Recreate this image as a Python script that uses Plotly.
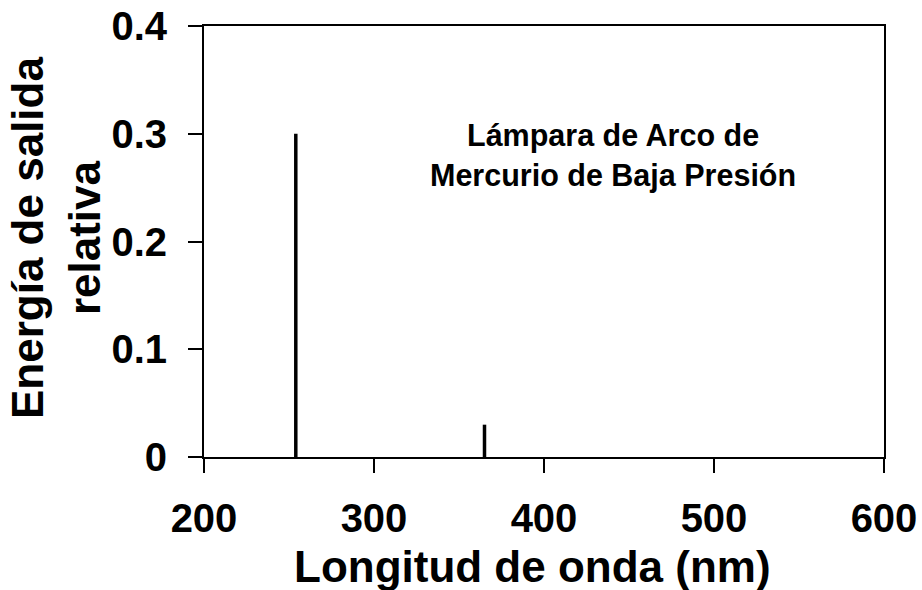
import plotly.graph_objects as go

# Data
wavelengths = [254, 365]          # nm
energies = [0.30, 0.03]           # relative output energy
x_ticks = [200, 300, 400, 500, 600]
y_ticks = [0, 0.1, 0.2, 0.3, 0.4]
y_tick_labels = ["0", "0.1", "0.2", "0.3", "0.4"]

FONT = "Arial, 'Liberation Sans', sans-serif"

xs, ys = [], []
for w, e in zip(wavelengths, energies):
    xs += [w, w, None]
    ys += [0, e, None]

fig = go.Figure()
fig.add_trace(go.Scatter(x=xs, y=ys, mode="lines",
                         line=dict(color="black", width=3.5),
                         showlegend=False, hoverinfo="skip"))

L, R, T, B = 204, 884, 26, 457
fig.update_layout(
    width=922, height=590,
    margin=dict(l=L, r=922 - R, t=T, b=590 - B, autoexpand=False),
    paper_bgcolor="white", plot_bgcolor="white",
    font=dict(family=FONT, color="black"),
    showlegend=False,
)
fig.update_xaxes(
    range=[200, 600], tickvals=x_ticks, ticktext=[str(v) for v in x_ticks],
    showgrid=False, zeroline=False, showline=True, linecolor="black", linewidth=2,
    mirror=True, ticks="outside", ticklen=14, tickwidth=2, tickcolor="black",
    tickfont=dict(size=40, family=FONT, weight="bold"),
    ticklabelstandoff=11, automargin=False,
)
fig.update_yaxes(
    range=[0, 0.4], tickvals=y_ticks, ticktext=y_tick_labels,
    showgrid=False, zeroline=False, showline=True, linecolor="black", linewidth=2,
    mirror=True, ticks="outside", ticklen=14, tickwidth=2, tickcolor="black",
    tickfont=dict(size=40, family=FONT, weight="bold"),
    ticklabelstandoff=13, automargin=False,
)

fig.add_annotation(
    text="<b>Longitud de onda (nm)</b>", xref="paper", yref="paper",
    x=(532.5 - L) / (R - L), y=-(566 - B) / (B - T),
    xanchor="center", yanchor="middle", showarrow=False,
    font=dict(size=44, family=FONT, color="black"),
)
fig.add_annotation(
    text="<b>Energía de salida<br>relativa</b>", xref="paper", yref="paper",
    x=-(L - 56) / (R - L), y=(B - 238) / (B - T),
    xanchor="center", yanchor="middle", showarrow=False, textangle=-90,
    font=dict(size=44, family=FONT, color="black"),
)
fig.add_annotation(
    text="<b>Lámpara de Arco de<br>Mercurio de Baja Presión</b>",
    x=440.5, y=0.28, xref="x", yref="y",
    xanchor="center", yanchor="middle", showarrow=False,
    font=dict(size=30.5, family=FONT, color="black"),
)

fig.write_html("out.html")
